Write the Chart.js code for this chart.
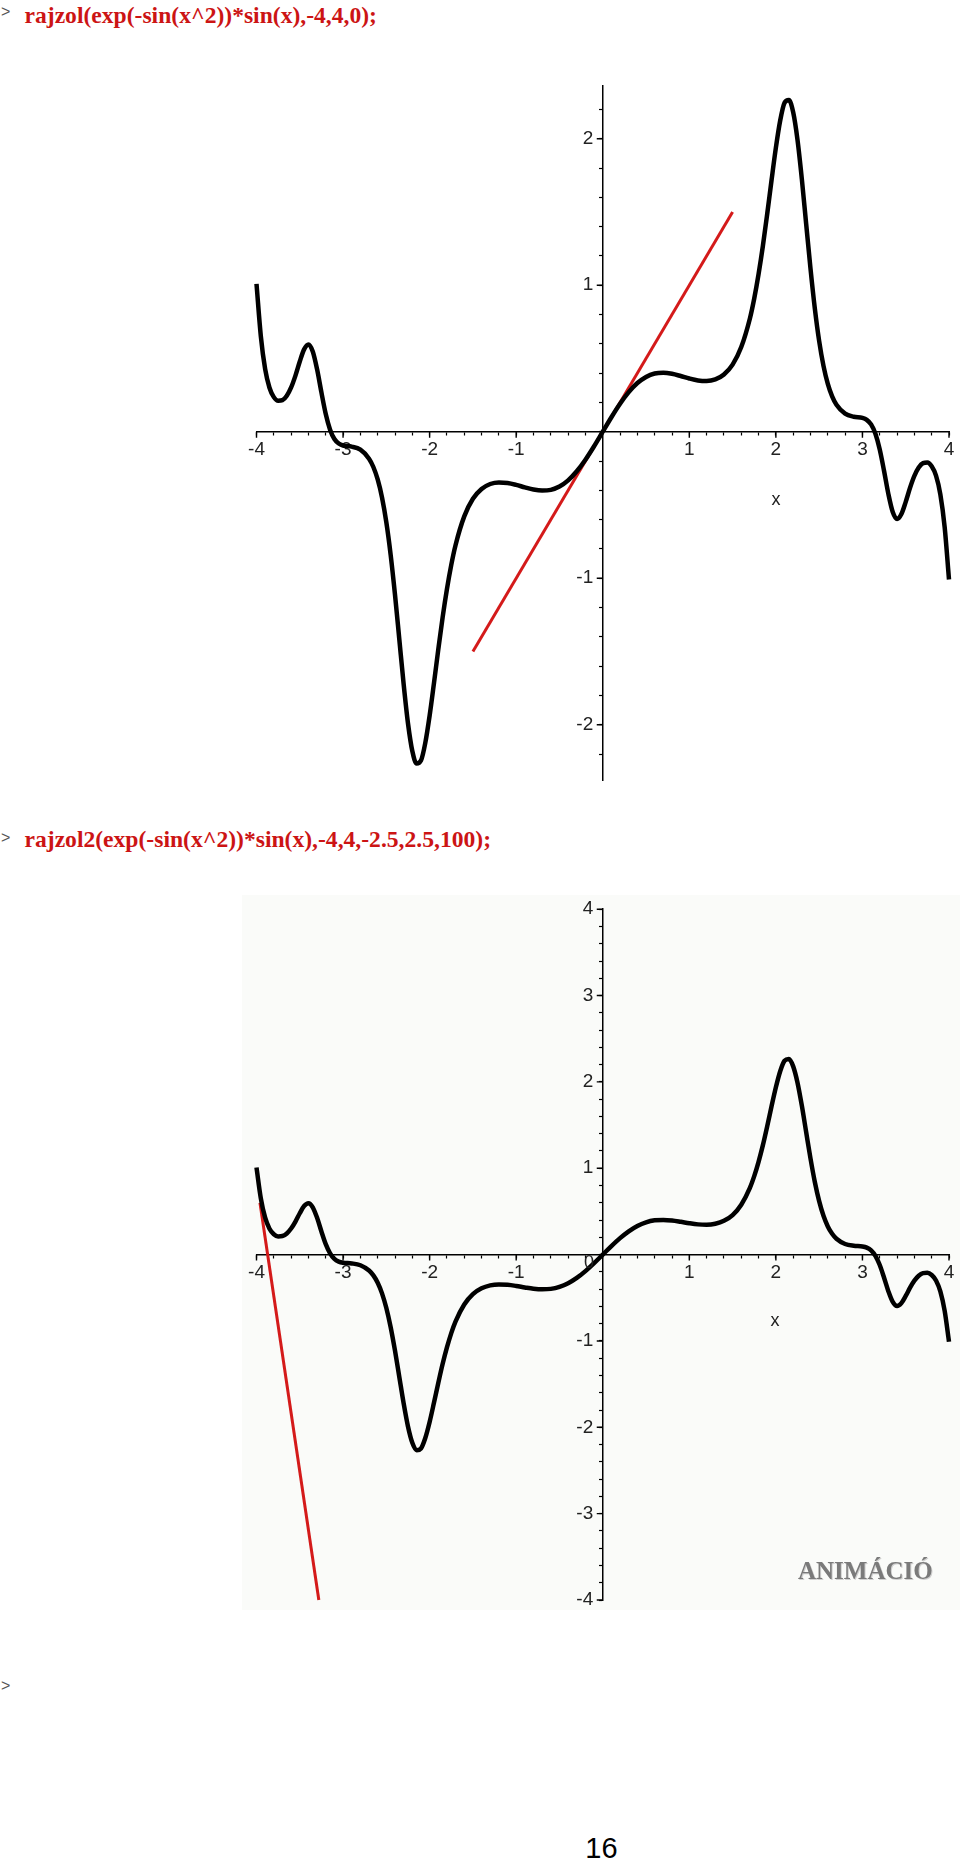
<!DOCTYPE html>
<html>
<head>
<meta charset="utf-8">
<script src="https://cdn.jsdelivr.net/npm/chart.js@4.4.1/dist/chart.umd.min.js"></script>
<style>
  html, body { margin: 0; padding: 0; background: #fff; }
  #page { position: relative; width: 960px; height: 1861px; overflow: hidden; background: #fff; }
  .t { position: absolute; white-space: nowrap; }
  .prompt { font: 16px/16px "Liberation Sans", Arial, sans-serif; color: #555; }
  .cmd { font: bold 23.6px/23.6px "Liberation Serif", "Times New Roman", serif; color: #cc1414; }
  .axl { font: 18px/18px "Liberation Sans", Arial, sans-serif; color: #222; width: 40px; text-align: center; }
  .box { position: absolute; }
</style>
</head>
<body>
<div id="page">
  <div class="box" style="left:242px;top:895px;width:718px;height:715px;background:#fafbf9;"></div>

  <div class="box" style="left:200px;top:60px;width:760px;height:740px;">
    <canvas id="c1" width="760" height="740"></canvas>
  </div>
  <div class="box" style="left:200px;top:880px;width:760px;height:740px;">
    <canvas id="c2" width="760" height="740"></canvas>
  </div>

  <div class="t prompt" style="left:1px;top:4px;">&gt;</div>
  <div class="t cmd" style="left:24.5px;top:3.7px;">rajzol(exp(-sin(x^2))*sin(x),-4,4,0);</div>

  <div class="t prompt" style="left:1px;top:830px;">&gt;</div>
  <div class="t cmd" style="left:24.5px;top:828.2px;">rajzol2(exp(-sin(x^2))*sin(x),-4,4,-2.5,2.5,100);</div>

  <div class="t axl" style="left:756px;top:489.5px;">x</div>
  <div class="t axl" style="left:755px;top:1310.5px;">x</div>
  <div class="t axl" style="left:569px;top:1253px;">0</div>

  <div class="t" style="left:798px;top:1557.5px;font:bold 25px/25px 'Liberation Serif','Times New Roman',serif;color:#7a7a7a;text-shadow:1px 1px 0 #d0d0d0;">ANIMÁCIÓ</div>

  <div class="t prompt" style="left:1px;top:1677.5px;">&gt;</div>
  <div class="t" style="left:551.5px;top:1833.5px;width:100px;text-align:center;font:29px/29px 'Liberation Sans',Arial,sans-serif;color:#000;">16</div>
</div>

<script>
// ---- data ----
const curveX = [
  -4.0, -3.95, -3.9, -3.85, -3.8, -3.75, -3.7, -3.65, -3.6, -3.55, -3.5, -3.45, -3.4, -3.35, -3.3, -3.25,
  -3.2, -3.15, -3.1, -3.05, -3.0, -2.9, -2.8, -2.7, -2.65, -2.6, -2.55, -2.5, -2.45, -2.4, -2.35, -2.3,
  -2.25, -2.2, -2.15, -2.1, -2.05, -2.0, -1.95, -1.9, -1.85, -1.8, -1.75, -1.7, -1.6, -1.5, -1.4, -1.3,
  -1.2, -1.1, -1.0, -0.9, -0.8, -0.7, -0.6, -0.5, -0.4, -0.3, -0.2, -0.1,
  0,
  0.1, 0.2, 0.3, 0.4, 0.5, 0.6, 0.7, 0.8, 0.9, 1.0, 1.1, 1.2, 1.3, 1.4, 1.5, 1.6, 1.7, 1.75, 1.8, 1.85,
  1.9, 1.95, 2.0, 2.05, 2.1, 2.15, 2.2, 2.25, 2.3, 2.35, 2.4, 2.45, 2.5, 2.55, 2.6, 2.65, 2.7, 2.8, 2.9,
  3.0, 3.05, 3.1, 3.15, 3.2, 3.25, 3.3, 3.35, 3.4, 3.45, 3.5, 3.55, 3.6, 3.65, 3.7, 3.75, 3.8, 3.85, 3.9,
  3.95, 4.0
];
const curveY = [
  1.009, 0.652, 0.427, 0.300, 0.236, 0.211, 0.215, 0.245, 0.302, 0.383, 0.479, 0.562, 0.596, 0.548, 0.426, 0.268,
  0.121, 0.014, -0.050, -0.081, -0.094, -0.102, -0.123, -0.184, -0.241, -0.326, -0.449, -0.619, -0.841, -1.113, -1.418, -1.724,
  -1.991, -2.180, -2.265, -2.245, -2.124, -1.938, -1.717, -1.487, -1.268, -1.075, -0.909, -0.773, -0.578, -0.458, -0.391, -0.357,
  -0.346, -0.350, -0.363, -0.380, -0.395, -0.402, -0.397, -0.374, -0.332, -0.270, -0.191, -0.099,
  0,
  0.099, 0.191, 0.270, 0.332, 0.374, 0.397, 0.402, 0.395, 0.380, 0.363, 0.350, 0.346, 0.357, 0.391, 0.458, 0.578, 0.773, 0.909, 1.075, 1.268,
  1.487, 1.717, 1.938, 2.124, 2.245, 2.265, 2.180, 1.991, 1.724, 1.418, 1.113, 0.841, 0.619, 0.449, 0.326, 0.241, 0.184, 0.123, 0.102,
  0.094, 0.081, 0.050, -0.014, -0.121, -0.268, -0.426, -0.548, -0.596, -0.562, -0.479, -0.383, -0.302, -0.245, -0.215, -0.211, -0.236, -0.300, -0.427,
  -0.652, -1.009
];
const tangentTopX = [-1.5, 1.5];
const tangentTopY = [-1.5, 1.5];
const tangentBottomX = [-3.96, -3.28];
const tangentBottomY = [0.6, -4];

const xRange = [-4, 4];
const topYRange = [-2.38, 2.36];
const bottomYRange = [-4, 4];

const topXTickLabels = [-4, -3, -2, -1, 1, 2, 3, 4];
const topYTickLabels = [-2, -1, 1, 2];
const bottomXTickLabels = [-4, -3, -2, -1, 1, 2, 3, 4];
const bottomYTickLabels = [-4, -3, -2, -1, 1, 2, 3, 4];

// ---- chart building ----
function pts(xs, ys) { return xs.map((x, i) => ({ x: x, y: ys[i] })); }

const tickFont = { family: '"Liberation Sans", Arial, sans-serif', size: 19 };
const keepMinor = (scale) => {
  scale.ticks = scale.ticks.filter(t => Math.abs(t.value * 5 - Math.round(t.value * 5)) < 1e-6);
};
const labelFor = (list, suffix) => (v) => {
  const r = Math.round(v);
  return (Math.abs(v - r) < 1e-6 && list.includes(r)) ? String(r) + suffix : '';
};

function makeChart(id, yRange, xLabels, yLabels, tanX, tanY, pad) {
  const majorTicks = {
    id: 'majorTicks',
    beforeDatasetsDraw(chart) {
      const ctx = chart.ctx, sx = chart.scales.x, sy = chart.scales.y;
      const x0 = sx.getPixelForValue(0), y0 = sy.getPixelForValue(0);
      ctx.save();
      ctx.strokeStyle = '#000';
      ctx.lineWidth = 1.4;
      ctx.beginPath();
      xLabels.forEach(v => { const px = sx.getPixelForValue(v); ctx.moveTo(px, y0); ctx.lineTo(px, y0 + 6); });
      yLabels.forEach(v => { const py = sy.getPixelForValue(v); ctx.moveTo(x0 - 6, py); ctx.lineTo(x0, py); });
      ctx.stroke();
      ctx.restore();
    }
  };
  return new Chart(document.getElementById(id), {
    type: 'scatter',
    data: {
      datasets: [
        { data: pts(curveX, curveY), showLine: true, borderColor: '#000', borderWidth: 4.5,
          pointRadius: 0, clip: false, cubicInterpolationMode: 'monotone', borderJoinStyle: 'round' },
        { data: pts(tanX, tanY), showLine: true, borderColor: '#d41a1a', borderWidth: 3,
          pointRadius: 0, clip: false, tension: 0 }
      ]
    },
    options: {
      responsive: false,
      animation: false,
      events: [],
      layout: { padding: pad },
      plugins: { legend: { display: false }, tooltip: { enabled: false } },
      scales: {
        x: {
          type: 'linear', min: xRange[0], max: xRange[1], position: { y: 0 },
          afterBuildTicks: keepMinor,
          border: { display: true, color: '#000', width: 1.5 },
          grid: { display: true, drawOnChartArea: false, drawTicks: true, tickLength: 3, color: '#000', tickWidth: 1.2 },
          ticks: { stepSize: 0.2, autoSkip: false, maxRotation: 0, minRotation: 0, padding: 4,
                   color: '#222', font: tickFont, callback: labelFor(xLabels, '') }
        },
        y: {
          type: 'linear', min: yRange[0], max: yRange[1], position: { x: 0 },
          afterBuildTicks: keepMinor,
          border: { display: true, color: '#000', width: 1.5 },
          grid: { display: true, drawOnChartArea: false, drawTicks: true, tickLength: 3, color: '#000', tickWidth: 1.2 },
          ticks: { stepSize: 0.2, autoSkip: false, padding: 5,
                   color: '#222', font: tickFont, callback: labelFor(yLabels, '\u2002') }
        }
      }
    },
    plugins: [majorTicks]
  });
}

makeChart('c1', topYRange, topXTickLabels, topYTickLabels, tangentTopX, tangentTopY,
          { left: 56.5, right: 11, top: 25.96, bottom: 19.63 });
makeChart('c2', bottomYRange, bottomXTickLabels, bottomYTickLabels, tangentBottomX, tangentBottomY,
          { left: 56.5, right: 11, top: 29.2, bottom: 20 });
</script>
</body>
</html>
